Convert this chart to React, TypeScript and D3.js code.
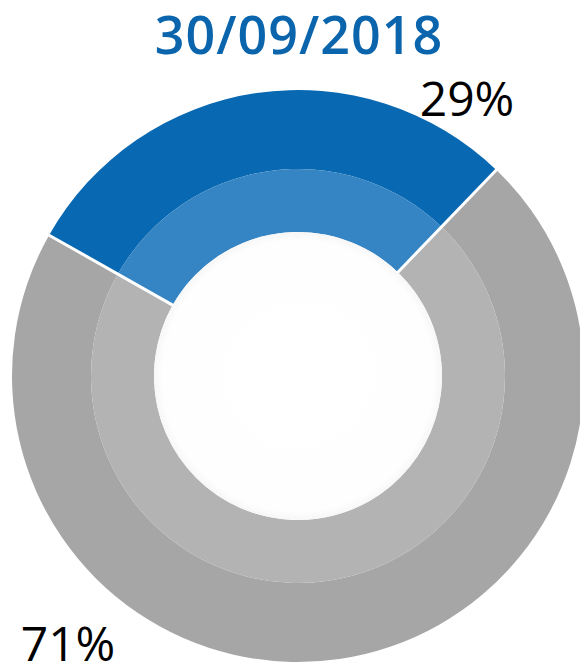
import React from "react";
import * as d3 from "d3";

const title = "30/09/2018";
const categories = ["Segment A", "Segment B"];
const values = [29, 71];
const valueLabels = ["29%", "71%"];
const outerColors = ["#0868B1", "#A6A6A6"];
const innerColors = ["#3584C3", "#B3B3B3"];

const W = 580;
const H = 663;
const cx = 298;
const cy = 376;
const rOuter = 286;
const rMid = 207;
const rInner = 144;
const startDeg = -60.5;

export default function App() {
  const start = (startDeg * Math.PI) / 180;
  const pie = d3
    .pie<number>()
    .sort(null)
    .startAngle(start)
    .endAngle(start + 2 * Math.PI)
    .value((d) => d);
  const arcs = pie(values);
  const outerArc = d3.arc<d3.PieArcDatum<number>>().innerRadius(rMid).outerRadius(rOuter);
  const innerArc = d3.arc<d3.PieArcDatum<number>>().innerRadius(rInner).outerRadius(rMid);

  const labelPos = [
    { x: 467, y: 116 },
    { x: 68, y: 661 },
  ];

  return (
    <svg
      width={W}
      height={H}
      style={{ position: "absolute", left: 0, top: 0 }}
      fontFamily="'Open Sans', sans-serif"
    >
      <defs>
        <radialGradient id="centerGrad" cx="50%" cy="50%" r="50%">
          <stop offset="0%" stopColor="#FFFFFF" />
          <stop offset="94%" stopColor="#FEFEFE" />
          <stop offset="100%" stopColor="#F7F7F7" />
        </radialGradient>
      </defs>
      <rect width={W} height={H} fill="#FFFFFF" />
      <text
        x={299}
        y={54}
        textAnchor="middle"
        fontSize={52}
        fontWeight={600}
        letterSpacing={1}
        fill="#0B65AC"
      >
        {title}
      </text>
      <g transform={`translate(${cx},${cy})`}>
        {arcs.map((a, i) => (
          <path key={"o" + categories[i]} d={outerArc(a) || ""} fill={outerColors[i]} />
        ))}
        {arcs.map((a, i) => (
          <path key={"i" + categories[i]} d={innerArc(a) || ""} fill={innerColors[i]} />
        ))}
        {arcs.map((a, i) => {
          const ang = a.startAngle;
          const x1 = Math.sin(ang) * (rInner - 2);
          const y1 = -Math.cos(ang) * (rInner - 2);
          const x2 = Math.sin(ang) * (rOuter + 2);
          const y2 = -Math.cos(ang) * (rOuter + 2);
          return (
            <line key={"s" + categories[i]} x1={x1} y1={y1} x2={x2} y2={y2} stroke="#FFFFFF" strokeWidth={3} />
          );
        })}
        <circle r={rInner} fill="url(#centerGrad)" />
      </g>
      {valueLabels.map((t, i) => (
        <text
          key={t}
          x={labelPos[i].x}
          y={labelPos[i].y}
          textAnchor="middle"
          fontSize={48}
          fill="#000000"
        >
          {t}
        </text>
      ))}
    </svg>
  );
}
